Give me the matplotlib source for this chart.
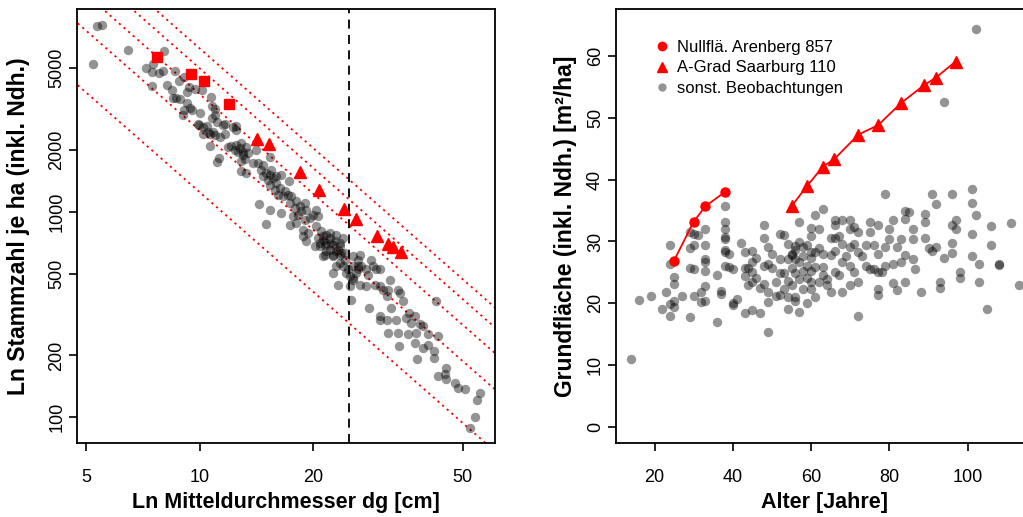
import matplotlib
matplotlib.use("Agg")
import matplotlib.pyplot as plt
from matplotlib.lines import Line2D
import numpy as np

plt.rcParams['font.family'] = ['Liberation Sans', 'DejaVu Sans']

# ---- left panel: dg [cm] vs stems per ha (log-log) ----
dg_obs = [5.2, 5.34, 5.51, 6.43, 8.04, 7.52, 7.2, 7.45, 7.81, 8.0,
          7.45, 8.61, 8.2, 8.81, 9.08, 9.35, 9.24, 8.46, 8.65, 8.87,
          9.24, 9.43, 9.08, 9.01, 9.52, 9.72, 9.92, 8.49, 10.0, 10.17,
          10.74, 10.8, 10.98, 10.23, 10.48, 10.76, 11.09, 11.68, 10.23, 10.65,
          10.87, 11.32, 11.68, 10.65, 12.47, 11.28, 11.09, 10.96, 9.96,
          10.52, 10.96, 11.53, 11.9, 12.14, 12.52, 12.78, 13.04, 13.31, 13.45,
          13.04, 12.65, 12.4, 12.91, 12.91, 13.17, 14.15, 13.87, 14.3, 14.74,
          15.35, 14.59, 14.98, 15.35, 15.67, 15.2, 14.74, 15.51, 16.0, 12.86,
          13.31, 16.0, 16.5, 17.27, 16.32, 16.83, 16.16, 16.66, 17.18, 17.53,
          18.07, 17.35, 17.89, 18.45, 19.02, 19.21, 18.63, 18.26, 17.71, 14.38,
          15.35, 14.98, 16.5, 17.35, 18.07, 19.02, 19.6, 20.0, 20.6, 20.4,
          18.83, 19.4, 18.83, 19.21, 20.4, 21.06, 21.72, 21.28, 20.62, 22.17,
          22.85, 22.4, 20.2, 20.84, 21.5, 21.72, 22.17, 21.28, 22.62, 23.09,
          23.56, 23.8, 22.62, 23.09, 24.05, 24.3, 23.56, 24.55, 25.06, 25.57,
          26.1, 26.37, 23.32, 25.06, 15.35, 15.83, 12.27, 12.52,
          21.28, 22.17, 23.09, 20.9, 21.72, 22.6, 23.56, 24.05, 23.32, 24.3,
          21.5, 22.62, 23.6, 25.57, 26.37, 26.64, 26.9, 27.75, 28.6, 28.9,
          28.0, 29.5, 30.1, 25.57, 24.8, 26.37, 25.6, 26.64, 27.75, 29.2,
          30.1, 30.7, 31.7, 32.0, 33.7, 31.4, 32.35, 34.0, 34.7, 25.3,
          28.2, 30.1, 30.1, 31.4, 33.3, 35.3, 36.1, 37.3, 36.5, 39.3,
          42.6, 31.7, 33.7, 35.8, 37.7, 38.5, 40.5, 37.3, 39.3, 40.5,
          43.0, 42.1, 42.1, 33.8, 37.9, 45.3, 44.8, 43.0, 45.3, 47.7,
          48.7, 50.7, 55.6, 54.7, 54.0, 52.2]
n_obs = [5230, 7970, 8090, 6130, 6080, 5230, 4985, 4800, 4710, 4830,
         4100, 4850, 4130, 4300, 4510, 4060, 3810, 3890, 3560, 3530,
         3370, 3200, 3120, 2960, 3120, 3930, 2670, 3560, 3020, 3910,
         3630, 3260, 3170, 2575, 2620, 2850, 2745, 2670, 2390, 2390,
         2435, 2300, 2390, 2080, 2600, 1820, 1745, 2960, 2630,
         2455, 2365, 2640, 2075, 2090, 2115, 2035, 1960, 2075, 1925,
         1890, 1960, 2000, 2155, 1755, 1800, 1985, 1725, 1725, 1690,
         1855, 1600, 1540, 1513, 1457, 1430, 1485, 1600, 1378, 1580,
         1541, 1485, 1513, 1404, 1304, 1255, 1209, 1187, 1209, 1187,
         1123, 1102, 1042, 1061, 1102, 1022, 1004, 967, 949, 1090,
         1022, 874, 985, 865, 881, 915, 932, 967, 949, 1022,
         818, 788, 759, 718, 849, 803, 773, 731, 745, 745,
         718, 705, 679, 679, 692, 642, 654, 612, 618, 642,
         679, 630, 504, 543, 543, 585, 564, 504, 486, 468,
         504, 543, 442, 434, 1352, 1279, 2595, 2505,
         759, 788, 773, 705, 705, 692, 705, 745, 654, 630,
         618, 607, 618, 607, 585, 618, 543, 524, 585, 543,
         494, 524, 524, 543, 524, 524, 477, 442, 434, 442,
         434, 418, 418, 468, 418, 388, 340, 403, 367, 371,
         340, 311, 299, 299, 299, 305, 322, 311, 289, 278,
         367, 258, 258, 253, 258, 283, 253, 231, 218, 226,
         248, 210, 195, 222, 193, 174, 162, 159, 154, 147,
         139, 138, 131, 121, 100, 89]

# Nullflaeche Arenberg 857 (squares) and A-Grad Saarburg 110 (triangles)
dg_aren = [7.72, 9.48, 10.25, 11.97]
n_aren = [5636, 4677, 4310, 3356]
dg_saar = [14.23, 15.26, 18.52, 20.77, 24.15, 26.0, 29.62, 31.76, 32.66, 34.4]
n_saar = [2254, 2138, 1552, 1279, 1034, 921, 762, 697, 671, 637]

# Reineke lines: SDI at dg = 25 cm, fractions of the maximum
sdi_max = 1430
sdi_frac = [1.0, 0.8, 0.6, 0.4, 0.2]
reineke_slope = -1.605
dg_ref = 25

# ---- right panel: age vs basal area ----
age_obs = [14, 16, 19, 22, 23, 24, 24, 24, 24, 25,
           25, 25, 25, 27, 29, 29, 29, 29, 30, 30,
           30, 30, 31, 32, 32, 33, 33, 33, 33, 33,
           33, 33, 36, 36, 37, 37, 38, 38, 38, 38,
           38, 38, 38, 38, 39, 39, 40, 40, 40, 41,
           42, 43, 43, 43, 43, 44, 44, 45, 45, 45,
           45, 45, 46, 46, 47, 47, 48, 48, 48, 48,
           49, 49, 49, 49, 49, 50, 50, 51, 51, 52,
           52, 52, 52, 53, 53, 53, 54, 54, 54, 54,
           54, 55, 55, 55, 55, 56, 56, 56, 56, 56,
           56, 57, 57, 57, 57, 57, 58, 58, 58, 58,
           59, 59, 59, 59, 60, 60, 60, 60, 60, 60,
           60, 61, 61, 61, 61, 62, 62, 62, 63, 63,
           63, 63, 64, 64, 65, 65, 65, 66, 66, 66,
           66, 66, 67, 67, 68, 68, 68, 68, 69, 70,
           70, 70, 70, 70, 71, 71, 71, 72, 72, 72,
           72, 73, 74, 74, 75, 75, 75, 76, 76, 77,
           77, 77, 77, 77, 78, 79, 79, 79, 80, 80,
           81, 81, 81, 82, 82, 83, 83, 84, 84, 84,
           84, 85, 86, 86, 86, 86.5, 88, 89, 89, 89,
           90, 91, 91, 92, 92, 93, 93, 94, 94, 96,
           96, 96, 96, 97, 97, 98, 98, 101, 101, 101,
           101, 102, 102, 103, 103, 105, 106, 106, 108, 108,
           111, 113]
g_obs = [11.0, 20.6, 21.2, 19.0, 21.8, 29.5, 26.3, 19.9, 17.9, 24.2,
         23.2, 20.4, 19.4, 21.1, 31.6, 28.9, 25.7, 17.8, 31.2, 29.4,
         25.6, 21.2, 31.1, 21.8, 20.2, 32.0, 29.5, 27.2, 26.6, 25.3,
         22.8, 20.3, 24.5, 17.0, 22.0, 21.5, 35.7, 33.2, 32.0, 30.7,
         30.4, 28.7, 28.3, 26.1, 28.0, 25.8, 25.5, 20.1, 19.8, 20.7,
         29.7, 25.7, 28.3, 24.4, 18.4, 23.0, 25.7, 18.9, 28.4, 26.6,
         25.1, 23.5, 27.4, 24.1, 18.4, 22.4, 32.7, 30.5, 26.1, 23.1,
         29.1, 26.4, 21.8, 20.2, 15.3, 28.0, 25.7, 23.4, 21.1, 31.2,
         21.3, 27.2, 24.9, 31.1, 24.9, 22.3, 29.6, 27.1, 23.6, 19.1,
         21.0, 28.0, 25.7, 22.9, 27.8, 28.7, 29.2, 27.2, 24.9, 21.0,
         20.3, 33.1, 29.9, 26.6, 24.0, 18.6, 29.1, 27.7, 25.3, 22.3,
         26.1, 24.1, 20.1, 29.4, 32.1, 30.9, 28.3, 27.3, 25.3, 23.5,
         22.3, 34.2, 28.3, 25.8, 21.0, 32.0, 28.9, 23.5, 35.3, 28.0,
         25.8, 24.6, 24.0, 22.9, 30.5, 27.8, 21.9, 33.5, 32.7, 30.5,
         28.5, 25.0, 30.9, 24.5, 33.4, 29.6, 26.6, 21.8, 27.7, 33.4,
         32.0, 29.1, 26.1, 23.0, 32.3, 29.6, 25.0, 31.5, 28.3, 23.4,
         17.9, 27.7, 29.4, 26.1, 33.2, 31.5, 25.6, 29.5, 25.5, 32.6,
         28.0, 25.0, 22.3, 21.3, 25.0, 37.7, 29.1, 26.1, 32.0, 30.4,
         33.4, 26.4, 23.3, 29.1, 22.1, 30.4, 26.6, 35.0, 33.7, 27.8,
         23.5, 34.7, 32.0, 30.4, 27.2, 25.6, 21.8, 34.4, 33.2, 30.5,
         28.9, 37.7, 28.4, 36.1, 29.1, 23.4, 22.4, 52.5, 27.3, 37.7,
         32.7, 29.8, 28.1, 33.5, 32.0, 25.0, 24.1, 38.5, 36.2, 31.2,
         27.6, 64.3, 34.2, 26.4, 23.5, 19.1, 32.5, 29.5, 26.2, 26.3,
         33.0, 23.0]

age_aren = [24.9, 30.0, 33.0, 38.0]
g_aren = [26.8, 33.2, 35.7, 38.0]
age_saar = [55.0, 59.0, 63.0, 65.9, 72.1, 77.1, 83.0, 88.9, 91.9, 96.9]
g_saar = [35.7, 39.0, 42.1, 43.3, 47.3, 48.8, 52.4, 55.3, 56.5, 59.1]

legend_labels = ["Nullflä. Arenberg 857", "A-Grad Saarburg 110", "sonst. Beobachtungen"]

gray_kw = dict(s=46, color='black', alpha=0.42, linewidths=0)
tick_fs = 13
label_fs = 15.5

fig = plt.figure(figsize=(10.23, 5.17), dpi=100)
ax1 = fig.add_axes([0.0753, 0.1431, 0.4086, 0.8395])
ax2 = fig.add_axes([0.6019, 0.1431, 0.4091, 0.8395])

# left
ax1.set_xscale('log')
ax1.set_yscale('log')
ax1.set_xlim(4.72, 61)
ax1.set_ylim(75, 9680)
ax1.scatter(dg_obs, n_obs, **gray_kw, zorder=2)
xl = np.array([4.0, 70.0])
for f in sdi_frac:
    ax1.plot(xl, sdi_max * f * (xl / dg_ref) ** reineke_slope, color='red',
             lw=1.3, ls=(0, (1.2, 2.2)), zorder=1)
ax1.axvline(dg_ref, color='black', lw=1.3, ls=(0, (5, 3.5)), zorder=1)
ax1.plot(dg_aren, n_aren, 's', color='red', ms=7, zorder=3)
ax1.plot(dg_saar, n_saar, '^', color='red', ms=9, zorder=3)
ax1.set_xticks([5, 10, 20, 50])
ax1.set_xticklabels(['5', '10', '20', '50'])
ax1.set_yticks([100, 200, 500, 1000, 2000, 5000])
ax1.set_yticklabels(['100', '200', '500', '1000', '2000', '5000'])
ax1.minorticks_off()
ax1.set_xlabel("Ln Mitteldurchmesser dg [cm]", fontsize=label_fs, fontweight='bold')
ax1.set_ylabel("Ln Stammzahl je ha (inkl. Ndh.)", fontsize=16.5, fontweight='bold')

# right
ax2.set_xlim(10.1, 117)
ax2.set_ylim(-2.6, 67.6)
ax2.scatter(age_obs, g_obs, **gray_kw, zorder=2)
ax2.plot(age_aren, g_aren, '-o', color='red', lw=1.3, ms=6.5, zorder=3)
ax2.plot(age_saar, g_saar, '-^', color='red', lw=1.3, ms=9, zorder=3)
ax2.set_xticks([20, 40, 60, 80, 100])
ax2.set_yticks([0, 10, 20, 30, 40, 50, 60])
ax2.set_xlabel("Alter [Jahre]", fontsize=label_fs, fontweight='bold')
ax2.set_ylabel("Grundfläche (inkl. Ndh.) [m²/ha]", fontsize=16.5, fontweight='bold')

handles = [Line2D([], [], ls='none', marker='o', color='red', ms=6),
           Line2D([], [], ls='none', marker='^', color='red', ms=7),
           Line2D([], [], ls='none', marker='o', color='black', alpha=0.42, mec='none', ms=6)]
ax2.legend(handles, legend_labels, loc='upper left', bbox_to_anchor=(0.07, 0.945),
           frameon=False, fontsize=12, handletextpad=0.3, labelspacing=0.35,
           handlelength=1.2, borderaxespad=0)

for ax in (ax1, ax2):
    for sp in ax.spines.values():
        sp.set_linewidth(1.3)
    ax.tick_params(direction='out', length=6, width=1.2, labelsize=tick_fs)
    ax.tick_params(axis='x', pad=13)
    ax.tick_params(axis='y', labelrotation=90, pad=2.5)
    for lab in ax.get_yticklabels():
        lab.set_va('center')
    ax.xaxis.label.set_va('center')
    ax.yaxis.label.set_va('center')
    ax.xaxis.set_label_coords(0.5, -0.138)

ax1.yaxis.set_label_coords(-0.141, 0.5)
ax2.yaxis.set_label_coords(-0.121, 0.5)

fig.savefig("out.png", dpi=100)
